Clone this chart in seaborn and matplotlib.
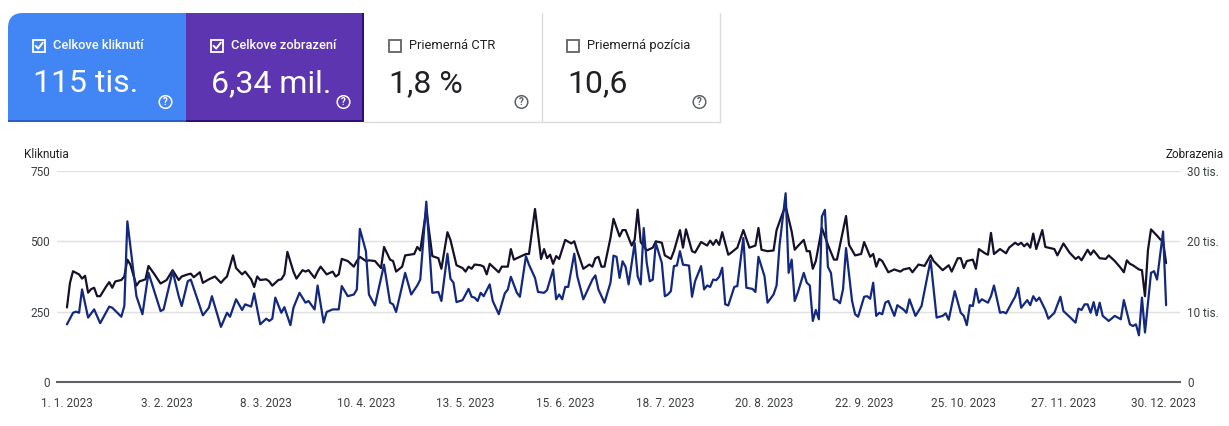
import numpy as np
import pandas as pd
import matplotlib
matplotlib.use('Agg')
import matplotlib.pyplot as plt
from matplotlib.patches import Rectangle, FancyBboxPatch, Circle
import seaborn as sns

W, H = 1229, 426
start = pd.Timestamp('2023-01-01')

# daily clicks (day offset from 1. 1. 2023 -> value)
click_days = [0, 2, 3, 4, 5, 7, 9, 11, 14, 15, 18, 19, 20, 23, 25, 27, 31, 32, 35, 37,
              38, 40, 41, 45, 47, 48, 51, 53, 54, 56, 58, 59, 61, 62, 64, 66, 67, 68, 69, 71,
              72, 74, 75, 77, 79, 80, 82, 83, 85, 86, 88, 90, 91, 93, 95, 96, 97, 99, 100, 102,
              105, 107, 108, 109, 112, 114, 116, 117, 119,
              121, 123, 124, 126, 127, 128, 129, 131, 132, 133, 134, 135, 136, 137, 138, 140, 141, 143, 145, 146,
              147, 149, 150, 152, 153, 155, 156, 158, 159, 161, 162, 163, 164, 165, 166, 168, 169, 171, 172, 174,
              175, 176, 178, 180, 181, 182, 183, 184, 185, 186, 188, 189, 190, 191, 192, 193, 194, 195, 197, 198,
              199, 200, 201, 202, 203, 204, 206, 207, 208, 210, 211, 212, 213, 214, 215, 216, 217, 218, 219, 221,
              222, 224, 225, 227, 228, 229, 231, 232, 234, 235, 236, 238, 239, 240, 241,
              242, 244, 245, 246, 247, 248, 249, 250, 251, 252, 253, 254, 255, 256, 257, 258, 259, 260, 261, 262,
              264, 265, 266, 267, 268, 269, 270, 271, 272, 274, 275, 277, 278, 279, 281, 282, 283, 286, 288, 290,
              291, 292, 294, 296, 297, 298, 299, 300, 301, 302, 303, 305, 306, 307, 308, 309, 310, 311, 313, 314,
              315, 316, 318, 319, 320, 321, 322, 324, 325, 327, 329, 330, 332, 334, 335, 336, 337, 338, 339, 340,
              341, 342, 343, 345, 347, 349, 350, 352, 353, 354, 355, 356, 357, 359, 360, 361, 363, 364]
clicks = [205, 246, 250, 246, 329, 229, 258, 209, 268, 264, 232, 270, 571, 305, 241, 388, 252, 258, 394, 305,
          270, 358, 364, 237, 264, 305, 196, 246, 232, 294, 256, 276, 268, 315, 205, 225, 217, 225, 300, 246,
          266, 202, 264, 317, 282, 288, 258, 343, 211, 249, 258, 258, 341, 305, 311, 329, 544, 465, 311, 272,
          417, 282, 276, 249, 388, 311, 343, 364, 641,
          317, 320, 288, 456, 367, 353, 284, 291, 311, 331, 303, 300, 288, 317, 305, 347, 288, 241, 315, 329,
          374, 317, 303, 447, 417, 370, 320, 317, 327, 400, 294, 311, 294, 338, 338, 456, 376, 294, 317, 364,
          379, 329, 282, 353, 449, 445, 370, 429, 409, 347, 494, 376, 347, 547, 423, 358, 364, 494, 423, 305,
          311, 323, 412, 414, 465, 417, 414, 303, 358, 412, 329, 343, 338, 364, 362, 374, 406, 276, 272, 338,
          341, 512, 335, 331, 320, 445, 376, 282, 311, 343, 488, 671, 388, 435, 288,
          317, 388, 353, 343, 217, 256, 223, 588, 612, 409, 388, 294, 291, 280, 329, 476, 382, 288, 241, 232,
          303, 305, 296, 353, 235, 246, 241, 282, 288, 235, 273, 258, 246, 294, 235, 252, 270, 433, 229, 235,
          244, 221, 323, 246, 235, 202, 273, 270, 331, 282, 294, 282, 305, 343, 294, 246, 249, 244, 284, 303,
          335, 264, 291, 273, 305, 288, 300, 256, 225, 246, 303, 252, 232, 211, 261, 256, 276, 276, 246, 284,
          237, 282, 235, 217, 235, 223, 291, 205, 199, 205, 166, 300, 176, 388, 394, 364, 535, 273]

# daily impressions (day offset -> value)
impr_days = [0, 1, 2, 4, 5, 6, 7, 8, 9, 10, 11, 13, 14, 15, 16, 18, 19, 20, 21, 23,
             24, 26, 27, 29, 31, 33, 35, 37, 38, 40, 41, 42, 44, 45, 47, 49, 51, 52, 53, 55,
             56, 58, 59, 61, 62, 63, 64, 66, 67, 68, 70, 71, 72, 73, 75, 76, 78, 79, 80, 82,
             83, 84, 86, 88, 89, 90, 91, 93, 95, 96, 97, 99, 100, 102, 104, 105, 107, 108, 109, 111,
             112, 115, 116, 117, 119,
             121, 123, 124, 126, 127, 129, 131, 132, 133, 134, 135, 137, 138, 139, 140, 142, 143, 144, 146, 147,
             148, 150, 152, 153, 155, 157, 158, 159, 160, 161, 162, 163, 165, 167, 168, 169, 171, 173, 174, 175,
             176, 177, 178, 180, 181, 183, 184, 185, 187, 188, 189, 190, 192, 194, 195, 197, 198, 200, 201, 203,
             204, 205, 207, 208, 210, 212, 213, 214, 215, 216, 217, 219, 220, 222, 224, 226, 228, 229, 230, 232,
             234, 235, 237, 238, 240,
             241, 242, 244, 245, 246, 247, 248, 250, 252, 254, 255, 258, 259, 261, 263, 264, 266, 267, 268, 269,
             270, 272, 274, 276, 277, 279, 280, 282, 284, 286, 287, 290, 292, 293, 295, 296, 297, 298, 300, 301,
             302, 304, 305, 306, 307, 309, 311, 312, 314, 315, 316, 317, 318, 319, 320, 321, 323, 324, 327, 328,
             330, 332, 334, 335, 336, 338, 339, 340, 342, 344, 345, 347, 349, 350, 351, 352, 353, 355, 356, 357,
             358, 359, 361, 362, 363, 364]
impressions = [10600, 14100, 15750, 15300, 14700, 15100, 12700, 13200, 13400, 12200, 12200, 13600, 14200, 13400, 14300, 14500, 15000, 17400, 16700, 13700,
               14300, 14600, 16500, 15300, 14000, 14500, 15900, 14500, 15000, 15300, 15400, 14900, 15600, 14100, 14600, 15000, 14100, 14600, 15000, 18000,
               16200, 15300, 15700, 14600, 13500, 15000, 14500, 14600, 14300, 13700, 14500, 14600, 15300, 18500, 15700, 14700, 15900, 15700, 15900, 14800,
               15700, 16400, 15300, 15700, 15000, 15300, 17500, 17200, 16400, 17200, 17800, 17200, 17300, 17200, 16200, 19200, 17400, 17200, 15700, 16400,
               18000, 18200, 19200, 18700, 24500,
               17900, 17600, 16100, 21300, 20200, 16600, 16200, 15700, 16400, 16100, 16700, 16600, 16400, 15300, 16800, 16000, 15600, 16400, 16400, 18900,
               17400, 17800, 18200, 18200, 24600, 17500, 18900, 17600, 18100, 16800, 17900, 17500, 20200, 19700, 20000, 18600, 16100, 16700, 16400, 17600,
               17800, 16400, 16400, 20500, 23200, 20700, 21600, 21600, 19400, 20200, 24500, 19900, 18700, 19100, 20000, 19800, 18000, 17500, 18600, 21600,
               19100, 21700, 18600, 18400, 19900, 19400, 20100, 19500, 20200, 19500, 21300, 18100, 18400, 19100, 21600, 19100, 19400, 21900, 18800, 18600,
               18700, 21600, 24000, 25000, 21400,
               18800, 19300, 20200, 18600, 18600, 16100, 17200, 21900, 19500, 17400, 17400, 23600, 19500, 18000, 18200, 19900, 17800, 18200, 16400, 17500,
               17200, 15600, 16000, 15700, 16000, 16200, 15600, 16700, 16500, 18000, 17200, 15900, 16600, 15700, 17600, 17600, 16200, 17200, 17400, 16100,
               18900, 18300, 18100, 21200, 18200, 18900, 18300, 19100, 19800, 19500, 19800, 19300, 19700, 19100, 21100, 18900, 21600, 19200, 18900, 18000,
               19700, 18400, 17500, 17800, 17300, 18800, 18100, 18700, 17600, 17500, 18000, 17200, 16200, 15600, 17300, 16800, 16600, 16000, 15900, 12200,
               18800, 21700, 20800, 20300, 20000, 16900]

tick_dates = ['2023-01-01', '2023-02-03', '2023-03-08', '2023-04-10', '2023-05-13', '2023-06-15',
              '2023-07-18', '2023-08-20', '2023-09-22', '2023-10-25', '2023-11-27', '2023-12-30']
left_ticks = [0, 250, 500, 750]
right_ticks = [0, 10000, 20000, 30000]
right_labels = ['0', '10 tis.', '20 tis.', '30 tis.']

card_titles = ['Celkove kliknutí', 'Celkove zobrazení', 'Priemerná CTR', 'Priemerná pozícia']
card_values = ['115 tis.', '6,34 mil.', '1,8 %', '10,6']
card_checked = [True, True, False, False]
card_colors = ['#4285f4', '#5e35b1', '#ffffff', '#ffffff']

assert len(click_days) == len(clicks)
assert len(impr_days) == len(impressions)

CLICK_COLOR = '#13287f'
IMPR_COLOR = '#16102b'
TXT = '#3c4043'

sns.set_style('white')
plt.rcParams['font.family'] = ['Roboto', 'DejaVu Sans']

click_df = pd.DataFrame({'date': start + pd.to_timedelta(click_days, unit='D'), 'clicks': clicks})
impr_df = pd.DataFrame({'date': start + pd.to_timedelta(impr_days, unit='D'), 'impressions': impressions})

fig = plt.figure(figsize=(W / 100, H / 100), dpi=100)
fig.patch.set_facecolor('white')

# chart
ax = fig.add_axes([57 / W, 1 - 382 / H, (1180 - 57) / W, (382 - 171) / H])
ax2 = ax.twinx()
sns.lineplot(data=impr_df, x='date', y='impressions', ax=ax2, color=IMPR_COLOR, lw=1.6)
sns.lineplot(data=click_df, x='date', y='clicks', ax=ax, color=CLICK_COLOR, lw=1.6)
ax.set_zorder(ax2.get_zorder() + 1)
ax.patch.set_visible(False)

ax.set_xlim(start - pd.Timedelta(days=3.3), start + pd.Timedelta(days=368.6))
ax.set_ylim(0, 750)
ax2.set_ylim(0, 30000)
ax.set_yticks(left_ticks)
ax2.set_yticks(right_ticks)
ax2.set_yticklabels(right_labels)
ticks = pd.to_datetime(tick_dates)
ax.set_xticks(ticks)
ax.set_xticklabels([f'{d.day}. {d.month}. {d.year}' for d in ticks])

ax.grid(False)
ax2.grid(axis='y', color='#e0e0e0', lw=1.0)
ax2.grid(axis='x', visible=False)
for a in (ax, ax2):
    for s in a.spines.values():
        s.set_visible(False)
    a.set_xlabel('')
    a.set_ylabel('')
ax.spines['bottom'].set_visible(True)
ax.spines['bottom'].set_color('#5f6368')
ax.spines['bottom'].set_linewidth(1.5)
ax.tick_params(axis='x', length=0, pad=11, labelsize=8.5, labelcolor=TXT)
ax.tick_params(axis='y', length=0, pad=5, labelsize=8.5, labelcolor=TXT)
ax2.tick_params(axis='y', length=0, pad=5, labelsize=8.5, labelcolor=TXT)

# overlay in pixel coordinates for the cards and axis titles
ov = fig.add_axes([0, 0, 1, 1])
ov.set_xlim(0, W)
ov.set_ylim(H, 0)
ov.axis('off')

ov.text(24, 154, 'Kliknutia', fontsize=8.5, color='#202124', va='center', ha='left')
ov.text(1224, 154, 'Zobrazenia', fontsize=8.5, color='#202124', va='center', ha='right')

card_w = 178
x0 = 8
top, bottom = 13, 122
for i in range(4):
    cx = x0 + i * card_w
    col = card_colors[i]
    dark = col != '#ffffff'
    if i == 0:
        ov.add_patch(FancyBboxPatch((cx + 15, top + 15), card_w - 30, bottom - top - 30,
                                    boxstyle='round,pad=15', fc=col, ec='none'))
        ov.add_patch(Rectangle((cx + 40, top), card_w - 40, bottom - top, fc=col, ec='none'))
        ov.add_patch(Rectangle((cx, top + 40), card_w, bottom - top - 40, fc=col, ec='none'))
        ov.add_patch(Rectangle((cx, bottom - 2), card_w, 2, fc='#2a5fc8', ec='none'))
    elif dark:
        ov.add_patch(Rectangle((cx, top), card_w, bottom - top, fc=col, ec='none'))
        ov.add_patch(Rectangle((cx, bottom - 2), card_w, 2, fc='#2c0f78', ec='none'))
        ov.add_patch(Rectangle((cx + card_w - 2, top), 2, bottom - top, fc='#2c0f78', ec='none'))
    else:
        ov.plot([cx + card_w, cx + card_w], [top, bottom], color='#dadce0', lw=1)
        ov.plot([cx, cx + card_w], [bottom, bottom], color='#dadce0', lw=1)

    fg = 'white' if dark else '#202124'
    box = 'white' if dark else '#5f6368'
    bx = cx + 25
    ov.add_patch(Rectangle((bx, 39.5), 12, 12, fill=False, ec=box, lw=1.3))
    if card_checked[i]:
        ov.plot([bx + 2.5, bx + 5.2, bx + 9.8], [45.8, 48.6, 42.6], color='white', lw=1.4,
                solid_capstyle='round', solid_joinstyle='round')
    ov.text(bx + 20, 45.5, card_titles[i], fontsize=9.3, color=fg, va='center', ha='left',
            fontweight='medium' if dark else 'normal')
    ov.text(bx, 92, card_values[i], fontsize=23, color=fg if dark else '#202124',
            va='baseline', ha='left')
    hx, hy = cx + 157.5, 102
    ov.add_patch(Circle((hx, hy), 6.3, fill=False, ec=fg if dark else '#5f6368', lw=1.1))
    ov.text(hx, hy + 0.3, '?', fontsize=7, color=fg if dark else '#5f6368', ha='center',
            va='center', fontweight='bold')

fig.savefig('out.png', dpi=100)
